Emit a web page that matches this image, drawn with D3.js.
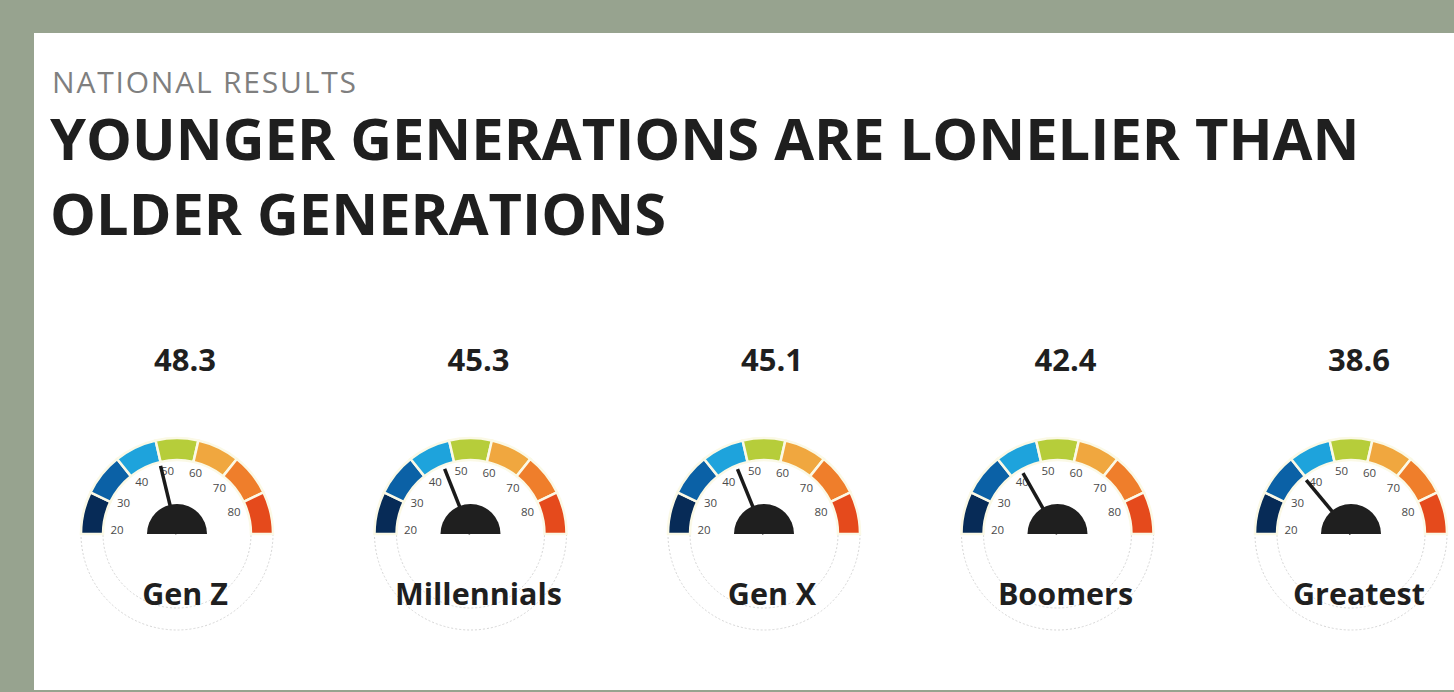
<!DOCTYPE html>
<html>
<head>
<meta charset="utf-8">
<script src="https://cdn.jsdelivr.net/npm/d3@7"></script>
<style>
  html, body { margin: 0; padding: 0; background: #97a38f; }
  svg { display: block; }
</style>
</head>
<body>
<svg id="chart" width="1454" height="692"></svg>
<script>
// Loneliness score by generation
const generations = ["Gen Z", "Millennials", "Gen X", "Boomers", "Greatest"];
const scores = [48.3, 45.3, 45.1, 42.4, 38.6];
const tickValues = [20, 30, 40, 50, 60, 70, 80];
const bandColors = ["#072b57", "#0b61a6", "#1ea3dc", "#b6cd3a", "#f0a73f", "#ef7e2b", "#e54a1c"];

const W = 1454, H = 692;
const svg = d3.select("#chart");

// page background and white panel
svg.append("rect").attr("width", W).attr("height", H).attr("fill", "#97a38f");
svg.append("rect").attr("x", 34).attr("y", 33).attr("width", W - 34).attr("height", 657).attr("fill", "#ffffff");

// headings
svg.append("text")
  .attr("x", 52).attr("y", 93)
  .attr("font-family", "'Open Sans', sans-serif")
  .attr("font-size", 30)
  .attr("letter-spacing", 1.8)
  .attr("fill", "#7f7f7f")
  .text("NATIONAL RESULTS");

const titleLines = ["YOUNGER GENERATIONS ARE LONELIER THAN", "OLDER GENERATIONS"];
svg.selectAll("text.title")
  .data(titleLines)
  .join("text")
  .attr("class", "title")
  .attr("x", 50)
  .attr("y", (d, i) => 160 + i * 75)
  .attr("font-family", "'Open Sans', sans-serif")
  .attr("font-weight", 700)
  .attr("font-size", 57.8)
  .attr("fill", "#1f1f1f")
  .text(d => d);

// gauge geometry
const rOuter = 96, rInner = 74, rHub = 30, rNeedle = 70, rLabel = 60;
const cy = 534;
const textShift = 8;
const xCenter = d3.scalePoint().domain(generations).range([177, 1351]);

// value -> angle in degrees, measured clockwise from the left horizontal
const angle = d3.scaleLinear().domain([20, 80]).range([0, 162]);
// d3.arc uses radians from 12 o'clock
const toArc = deg => (deg - 90) * Math.PI / 180;

// seven equal colour bands over the half circle
const band = d3.scaleBand().domain(d3.range(bandColors.length)).range([0, 180]).paddingInner(0);

const arcGen = d3.arc().innerRadius(rInner).outerRadius(rOuter);

const gauges = svg.selectAll("g.gauge")
  .data(generations.map((g, i) => ({ name: g, score: scores[i] })))
  .join("g")
  .attr("class", "gauge")
  .attr("transform", d => `translate(${xCenter(d.name)},${cy})`);

// faint lower half ring
gauges.append("path")
  .attr("d", arcGen({ startAngle: Math.PI / 2, endAngle: Math.PI * 1.5 }))
  .attr("fill", "none")
  .attr("stroke", "#d6d6d6")
  .attr("stroke-width", 1)
  .attr("stroke-dasharray", "2,2");

// coloured bands
gauges.selectAll("path.band")
  .data(bandColors.map((c, i) => ({ c, i })))
  .join("path")
  .attr("class", "band")
  .attr("d", b => arcGen({
    startAngle: toArc(band(b.i)),
    endAngle: toArc(band(b.i) + band.bandwidth())
  }))
  .attr("fill", b => b.c)
  .attr("stroke", "#fbf9e6")
  .attr("stroke-width", 2.5);

// tick labels
gauges.selectAll("text.tick")
  .data(tickValues)
  .join("text")
  .attr("class", "tick")
  .attr("x", v => -rLabel * Math.cos(angle(v) * Math.PI / 180))
  .attr("y", v => -rLabel * Math.sin(angle(v) * Math.PI / 180) - 3)
  .attr("text-anchor", "middle")
  .attr("dominant-baseline", "middle")
  .attr("font-family", "'Open Sans', sans-serif")
  .attr("font-size", 11.5)
  .attr("fill", "#4a4a4a")
  .text(v => v);

// needle
gauges.append("line")
  .attr("x1", 0).attr("y1", 0)
  .attr("x2", d => -rNeedle * Math.cos(angle(d.score) * Math.PI / 180))
  .attr("y2", d => -rNeedle * Math.sin(angle(d.score) * Math.PI / 180))
  .attr("stroke", "#1a1a1a")
  .attr("stroke-width", 3.5)
  .attr("stroke-linecap", "butt");

// hub
gauges.append("path")
  .attr("d", d3.arc().innerRadius(0).outerRadius(rHub)({ startAngle: -Math.PI / 2, endAngle: Math.PI / 2 }))
  .attr("fill", "#1f1f1f");

// score above each gauge
gauges.append("text")
  .attr("x", textShift).attr("y", 371 - cy)
  .attr("text-anchor", "middle")
  .attr("font-family", "'Open Sans', sans-serif")
  .attr("font-weight", 700)
  .attr("font-size", 31)
  .attr("fill", "#1f1f1f")
  .text(d => d.score.toFixed(1));

// generation name
gauges.append("text")
  .attr("x", textShift).attr("y", 605 - cy)
  .attr("text-anchor", "middle")
  .attr("font-family", "'Open Sans', sans-serif")
  .attr("font-weight", 700)
  .attr("font-size", 30.5)
  .attr("fill", "#1f1f1f")
  .text(d => d.name);
</script>
</body>
</html>
